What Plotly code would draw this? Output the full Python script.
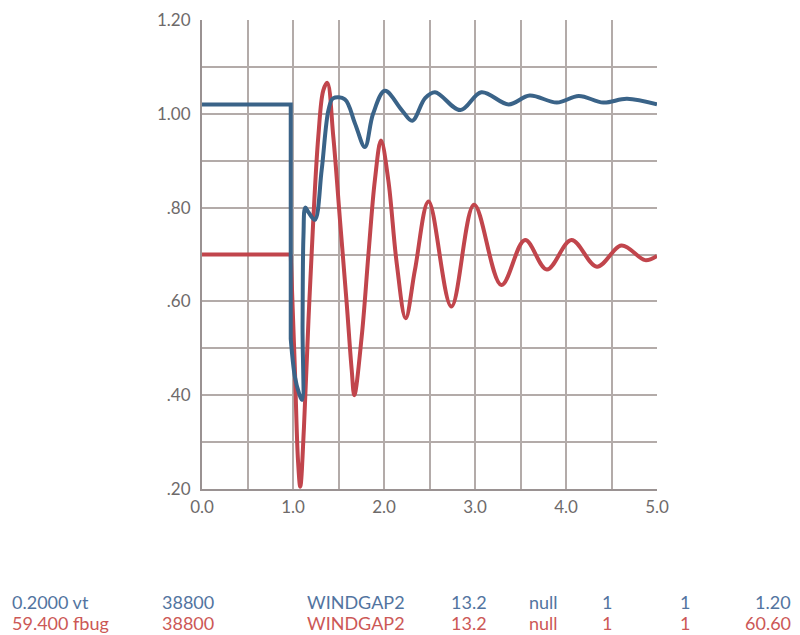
import plotly.graph_objects as go

# ---- data ----
vt_step_x = [0.0, 0.975, 0.975]
vt_step_y = [1.02, 1.02, 0.52]
vt_x = [0.975, 1.02, 1.065, 1.10, 1.105, 1.115, 1.135, 1.17, 1.24, 1.315, 1.39, 1.44, 1.57,
        1.68, 1.79, 1.88, 2.01, 2.195, 2.31, 2.45, 2.56, 2.84, 3.07, 3.37, 3.60, 3.90,
        4.14, 4.41, 4.67, 5.0]
vt_y = [0.52, 0.44, 0.405, 0.39, 0.55, 0.74, 0.80, 0.79, 0.774, 0.88, 1.008, 1.033, 1.031,
        0.98, 0.929, 1.00, 1.049, 1.008, 0.985, 1.033, 1.046, 1.008, 1.046, 1.02, 1.039, 1.024,
        1.038, 1.024, 1.032, 1.02]

fb_step_x = [0.0, 0.975]
fb_step_y = [0.70, 0.70]
fb_x = [0.975, 1.02, 1.055, 1.08, 1.12, 1.17, 1.223, 1.278, 1.333, 1.377, 1.443, 1.516, 1.59,
        1.645, 1.674, 1.755, 1.83, 1.90, 1.967, 2.047, 2.14, 2.238, 2.34, 2.49, 2.74, 2.99,
        3.29, 3.55, 3.79, 4.06, 4.34, 4.61, 4.87, 5.0]
fb_y = [0.70, 0.46, 0.26, 0.205, 0.33, 0.56, 0.774, 0.951, 1.05, 1.066, 0.951, 0.774, 0.596,
        0.454, 0.40, 0.525, 0.703, 0.859, 0.943, 0.859, 0.681, 0.564, 0.667, 0.813, 0.589, 0.806,
        0.635, 0.731, 0.668, 0.731, 0.674, 0.719, 0.688, 0.697]

x_tickvals = [0, 1, 2, 3, 4, 5]
x_ticktext = ["0.0", "1.0", "2.0", "3.0", "4.0", "5.0"]
y_tickvals = [0.2, 0.4, 0.6, 0.8, 1.0, 1.2]
y_ticktext = [".20", ".40", ".60", ".80", "1.00", "1.20"]

row_vt = ["0.2000 vt", "38800", "WINDGAP2", "13.2", "null", "1", "1", "1.20"]
row_fb = ["59.400 fbug", "38800", "WINDGAP2", "13.2", "null", "1", "1", "60.60"]

BLUE = "#3a6388"
RED = "#c1454c"
GRID = "#b3aba9"
TXT_BLUE = "#5274a0"
TXT_RED = "#cc5856"

fig = go.Figure()
fig.add_trace(go.Scatter(x=fb_step_x, y=fb_step_y, mode="lines",
                         line=dict(color=RED, width=4), hoverinfo="skip"))
fig.add_trace(go.Scatter(x=fb_x, y=fb_y, mode="lines",
                         line=dict(color=RED, width=4, shape="spline", smoothing=1), hoverinfo="skip"))
fig.add_trace(go.Scatter(x=vt_step_x, y=vt_step_y, mode="lines",
                         line=dict(color=BLUE, width=4), hoverinfo="skip"))
fig.add_trace(go.Scatter(x=vt_x, y=vt_y, mode="lines",
                         line=dict(color=BLUE, width=4, shape="spline", smoothing=1), hoverinfo="skip"))

# screen positions of the plot area (page body adds an 8px offset)
OFF = 8
L, R, T, B = 202, 657, 20, 489
W, H = 800 - OFF, 635 - OFF

def px_to_paper_x(px):
    return (px - L) / (R - L)

def py_to_paper_y(py):
    return (B - py) / (B - T)

col_left = [10, 160, 305, 449, 527, 600, 678]
for row, color, py in ((row_vt, TXT_BLUE, 602), (row_fb, TXT_RED, 623)):
    for i, txt in enumerate(row[:-1]):
        fig.add_annotation(x=px_to_paper_x(col_left[i]), y=py_to_paper_y(py),
                           xref="paper", yref="paper", text=txt, showarrow=False,
                           xanchor="left", yanchor="middle",
                           font=dict(size=18, color=color, family="Lato"))
    fig.add_annotation(x=px_to_paper_x(793), y=py_to_paper_y(py),
                       xref="paper", yref="paper", text=row[-1], showarrow=False,
                       xanchor="right", yanchor="middle",
                       font=dict(size=18, color=color, family="Lato"))

fig.update_layout(
    width=W, height=H,
    margin=dict(l=L - OFF, r=W - (R - OFF), t=T - OFF, b=H - (B - OFF), pad=0),
    paper_bgcolor="white", plot_bgcolor="white",
    showlegend=False,
    font=dict(family="Lato", color="#6e6a6a", size=17),
    xaxis=dict(range=[0, 5], tickvals=x_tickvals, ticktext=x_ticktext, automargin=False,
               showgrid=True, gridcolor=GRID, gridwidth=1.5,
               minor=dict(dtick=0.5, showgrid=True, gridcolor=GRID, gridwidth=1.5),
               showline=True, linecolor="#9a9292", linewidth=2, mirror=False,
               zeroline=False, ticks="", ticklabelstandoff=2),
    yaxis=dict(range=[0.2, 1.2], tickvals=y_tickvals, ticktext=y_ticktext, automargin=False,
               showgrid=True, gridcolor=GRID, gridwidth=1.5,
               minor=dict(dtick=0.1, showgrid=True, gridcolor=GRID, gridwidth=1.5),
               showline=True, linecolor="#9a9292", linewidth=2,
               zeroline=False, ticks="", ticklabelstandoff=6),
)

fig.write_html("out.html")
